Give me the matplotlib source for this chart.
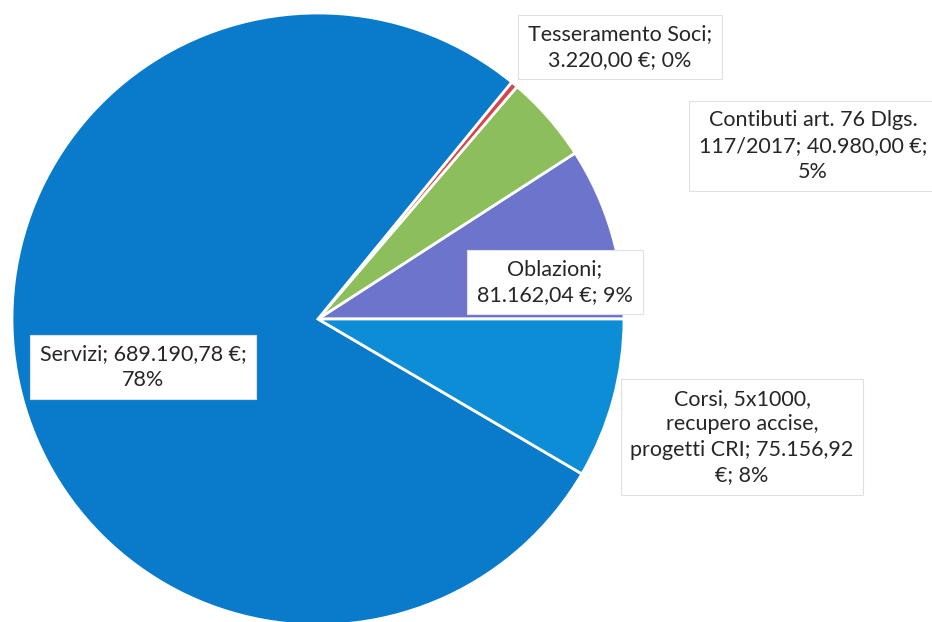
import matplotlib.pyplot as plt

plt.rcParams['font.family'] = ['Lato', 'DejaVu Sans']

# data, counterclockwise from 3 o'clock
names = ["Oblazioni", "Contibuti art. 76 Dlgs. 117/2017", "Tesseramento Soci",
         "Servizi", "Corsi, 5x1000, recupero accise, progetti CRI"]
amounts = [81162.04, 40980.00, 3220.00, 689190.78, 75156.92]
colors = ["#6C74CC", "#8CBE5C", "#D9434E", "#0A7BCB", "#0C8DD6"]

label_texts = [
    "Oblazioni;\n81.162,04 €; 9%",
    "Contibuti art. 76 Dlgs.\n117/2017; 40.980,00 €;\n5%",
    "Tesseramento Soci;\n3.220,00 €; 0%",
    "Servizi; 689.190,78 €;\n78%",
    "Corsi, 5x1000,\nrecupero accise,\nprogetti CRI; 75.156,92\n€; 8%",
]
# label box centres in pixels (x from left, y from top)
label_pos = [(555, 282), (813, 146), (620, 47), (143, 367), (742, 437)]

W, H = 932, 622
fig = plt.figure(figsize=(W / 100, H / 100), dpi=100)
ax = fig.add_axes([0, 0, 1, 1])

ax.pie(amounts, colors=colors, startangle=0, counterclock=True,
       center=(318, H - 319), radius=306,
       wedgeprops=dict(edgecolor="white", linewidth=2))

for txt, (x, y) in zip(label_texts, label_pos):
    ax.text(x, H - y, txt, ha="center", va="center", fontsize=15.5,
            color="#262626", linespacing=1.35,
            bbox=dict(boxstyle="square,pad=0.45", facecolor="white",
                      edgecolor="#E0E0E0", linewidth=0.8))

ax.set_xlim(0, W)
ax.set_ylim(0, H)
ax.set_aspect("equal")
ax.axis("off")

fig.savefig("out.png", dpi=100, facecolor="white")
